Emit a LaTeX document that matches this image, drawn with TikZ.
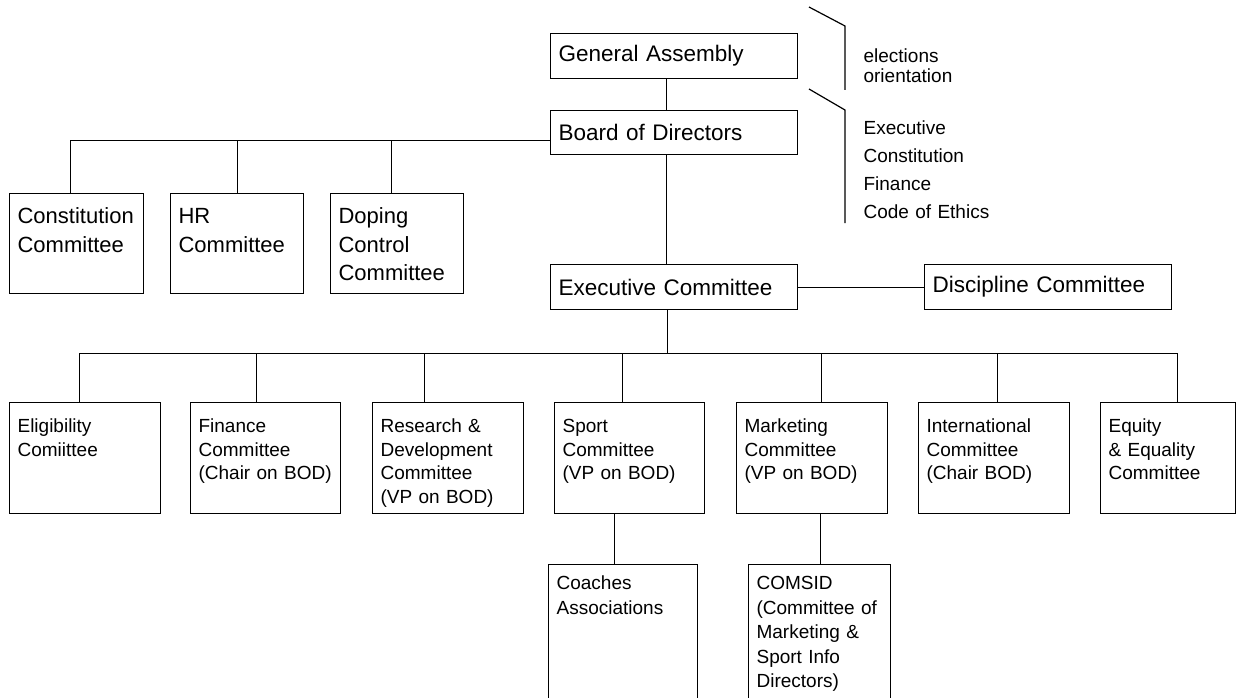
\documentclass[tikz,border=0pt]{standalone}
\usepackage{fontspec}
\setmainfont{Liberation Sans}
\usetikzlibrary{calc}

\begin{document}
\begin{tikzpicture}[x=1pt,y=-1pt,line width=1.2pt,
    unitbox/.style 2 args={draw,anchor=north west,align=left,inner xsep=8pt,inner ysep=0pt,
        text width=#1,minimum height=#2,font=\fontsize{22.5}{28}\selectfont},
    cellbox/.style n args={3}{draw,anchor=north west,align=left,inner xsep=8pt,inner ysep=0pt,
        text width=#1,text height=#2,text depth=#3},
    topfont/.style={font=\fontsize{22}{28.5}\selectfont},
    rowfont/.style={font=\fontsize{19}{23.5}\selectfont},
    kidfont/.style={font=\fontsize{19}{24.5}\selectfont},
    notetext/.style={anchor=base west,align=left,inner sep=0pt,text width=170pt}]
       \useasboundingbox[fill=white](0,0)rectangle(1243,698);%page

       \node[unitbox={231pt}{45pt}](ga)at(550,33){General Assembly};%top
       \node[unitbox={231pt}{44pt}](bod)at(550,110){Board of Directors};
       \node[unitbox={231pt}{45pt}](exec)at(550,264){Executive Committee};
       \node[unitbox={231pt}{45pt}](disc)at(924,264){Discipline Committee};

       \node[cellbox={118pt}{30pt}{70pt},topfont](cons)at(9,193){Constitution\\Committee};%BOD side
       \node[cellbox={117pt}{30pt}{70pt},topfont](hr)at(170,193){HR\\Committee};
       \node[cellbox={117pt}{30pt}{70pt},topfont](dop)at(330,193){Doping\\Control\\Committee};

       \node[cellbox={135pt}{30pt}{81pt},rowfont](elig)at(9,402){Eligibility\\Comiittee};%row under exec
       \node[cellbox={134pt}{30pt}{81pt},rowfont](fin)at(190,402){Finance\\Committee\\(Chair on BOD)};
       \node[cellbox={135pt}{30pt}{81pt},rowfont](res)at(372,402){Research \&\\Development\\Committee\\(VP on BOD)};
       \node[cellbox={134pt}{30pt}{81pt},rowfont](sport)at(554,402){Sport\\Committee\\(VP on BOD)};
       \node[cellbox={135pt}{30pt}{81pt},rowfont](mkt)at(736,402){Marketing\\Committee\\(VP on BOD)};
       \node[cellbox={135pt}{30pt}{81pt},rowfont](intl)at(918,402){International\\Committee\\(Chair BOD)};
       \node[cellbox={119pt}{30pt}{81pt},rowfont](eq)at(1100,402){Equity\\\& Equality\\Committee};

       \node[cellbox={133pt}{25pt}{115pt},kidfont](coach)at(548,564){Coaches\\Associations};%bottom
       \node[cellbox={126pt}{25pt}{115pt},kidfont](comsid)at(748,564){COMSID\\(Committee of\\Marketing \&\\Sport Info\\Directors)};

       \node[notetext,font=\fontsize{19}{19.5}\selectfont](votes)at(863,63){elections\\orientation};
       \node[notetext,font=\fontsize{19}{27.7}\selectfont](duties)at(863,135){Executive\\Constitution\\Finance\\Code of Ethics};
       \draw(809,7)--(845,26)--(845,90);%bracket
       \draw(809,89)--(845,110)--(845,223);%bracket

       \draw([xshift=-7.5pt]ga.south)--([xshift=-7.5pt]bod.north);
       \draw([xshift=-7.5pt]bod.south)--([xshift=-7.5pt]exec.north);
       \draw(exec.east)--(disc.west);

       \foreach \n/\dx in{cons/-6,hr/0,dop/-5.5}
           \draw([yshift=-8pt]bod.west)-|([xshift=\dx pt]\n.north);%BOD branches

       \coordinate(hub)at($(exec.south)+(-7,43)$);%bar under exec
       \foreach \n/\dx in{elig/-5.5,fin/-9.5,res/-23.5,sport/-7.5,mkt/9.5,intl/3.5,eq/9.5}
           \draw([xshift=-7pt]exec.south)--(hub)-|([xshift=\dx pt]\n.north);%exec branches

       \draw([xshift=-15pt]sport.south)--([xshift=-8.5pt]coach.north);
       \draw([xshift=8.5pt]mkt.south)--([xshift=1pt]comsid.north);

      \end{tikzpicture}
\end{document}
